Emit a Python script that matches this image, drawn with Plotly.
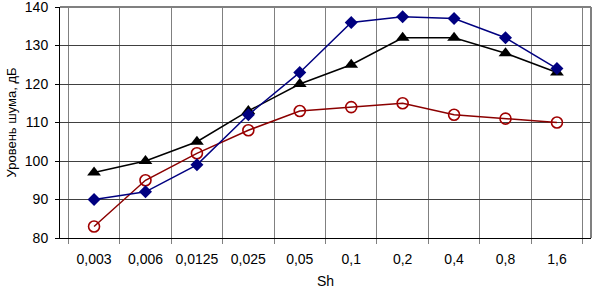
import plotly.graph_objects as go

categories = ["0,003", "0,006", "0,0125", "0,025", "0,05", "0,1", "0,2", "0,4", "0,8", "1,6"]
blue_vals = [90, 92, 99, 112, 123, 136, 137.5, 137, 132, 124]
black_vals = [97, 100, 105, 113, 120, 125, 132, 132, 128, 123]
red_vals = [83, 95, 102, 108, 113, 114, 115, 112, 111, 110]
y_ticks = [80, 90, 100, 110, 120, 130, 140]

fig = go.Figure()
fig.add_trace(go.Scatter(x=categories, y=black_vals, mode="lines+markers",
                         line=dict(color="black", width=1.5),
                         marker=dict(symbol="triangle-up", size=12, color="black")))
fig.add_trace(go.Scatter(x=categories, y=red_vals, mode="lines+markers",
                         line=dict(color="#8b0000", width=1.5),
                         marker=dict(symbol="circle-open", size=11, color="#a00000",
                                     line=dict(width=1.6, color="#a00000"))))
fig.add_trace(go.Scatter(x=categories, y=blue_vals, mode="lines+markers",
                         line=dict(color="#000080", width=1.5),
                         marker=dict(symbol="diamond", size=10, color="#000080")))

font = dict(family="Liberation Sans, Arial, sans-serif", size=14, color="black")
fig.update_layout(
    width=592, height=291,
    margin=dict(l=60, r=1, t=7, b=53, autoexpand=False),
    paper_bgcolor="white", plot_bgcolor="white",
    showlegend=False,
    hovermode=False,
    font=font,
    xaxis=dict(type="category", tickson="boundaries", showgrid=True,
               gridcolor="#808080", gridwidth=1, tickangle=0, automargin=False,
               ticks="outside", ticklen=5, tickcolor="#808080",
               ticklabelstandoff=8,
               showline=True, linecolor="black", linewidth=1,
               title=dict(text="Sh", font=font, standoff=10),
               tickfont=font),
    yaxis=dict(range=[80, 140], tickvals=y_ticks, showgrid=True, automargin=False,
               gridcolor="#404040", gridwidth=1,
               ticks="outside", ticklen=4, tickcolor="black",
               ticklabeloverflow="allow", ticklabelstandoff=4,
               showline=True, linecolor="black", linewidth=1,
               zeroline=False,
               title=dict(text="Уровень шума, дБ", font=dict(family=font["family"], size=13, color="black"), standoff=5),
               tickfont=font),
)
fig.add_shape(type="line", xref="paper", yref="paper", x0=0, x1=1, y0=1, y1=1,
              line=dict(color="#808080", width=2))
fig.add_shape(type="line", xref="paper", yref="paper", x0=1, x1=1, y0=0, y1=1,
              line=dict(color="#808080", width=2))
fig.write_html("out.html", config={"displayModeBar": False, "staticPlot": True},
               post_script="document.body.style.margin='0';document.body.style.overflow='hidden';")
